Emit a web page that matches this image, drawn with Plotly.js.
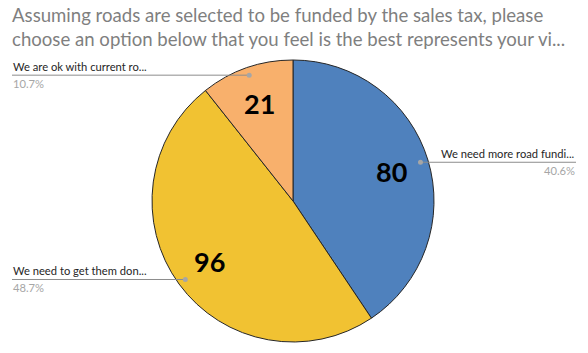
<!DOCTYPE html>
<html>
<head>
<meta charset="utf-8">
<script src="https://cdn.plot.ly/plotly-3.0.1.min.js"></script>
<style>html,body{margin:0;padding:0;background:#fff}#chart{width:588px;height:353px}</style>
</head>
<body>
<div id="chart"></div>
<script>
// ---- data ----
const categories = ["We need more road fundi...", "We need to get them don...", "We are ok with current ro..."];
const counts = [80, 96, 21];
const colors = ["#4F81BD", "#F1C232", "#F8B06C"];
const chartTitle = "Assuming roads are selected to be funded by the sales tax, please<br>choose an option below that you feel is the best represents your vi...";

// ---- layout constants ----
const W = 588, H = 353;
const cx = 293, cy = 201, R = 141;
const FONT = "Lato, 'Open Sans', sans-serif";
const px = x => x / W;
const py = y => 1 - y / H;

const total = counts.reduce((a, b) => a + b, 0);
const annotations = [];
const shapes = [];
let cum = 0;
counts.forEach((v, i) => {
  const mid = (cum + v / 2) / total * 2 * Math.PI; // clockwise from top
  cum += v;
  const sx = Math.sin(mid), cy_ = Math.cos(mid);
  // value label inside
  annotations.push({
    xref: "paper", yref: "paper",
    x: px(cx + 0.73 * R * sx), y: py(cy - 0.73 * R * cy_),
    text: "<b>" + v + "</b>", showarrow: false,
    font: {family: FONT, size: 27, color: "#000"},
    xanchor: "center", yanchor: "middle"
  });
  // leader dot & line
  const dx = cx + 0.945 * R * sx, dy = cy - 0.945 * R * cy_;
  const right = sx > 0;
  const x0 = right ? 576 : 12;
  shapes.push({type: "line", xref: "paper", yref: "paper",
    x0: px(dx), x1: px(x0), y0: py(dy), y1: py(dy),
    line: {color: "#8C8C8C", width: 1}});
  shapes.push({type: "circle", xref: "paper", yref: "paper",
    x0: px(dx - 2.5), x1: px(dx + 2.5), y0: py(dy - 2.5), y1: py(dy + 2.5),
    fillcolor: "#A6A6A6", line: {width: 0}});
  const pct = (v / total * 100).toFixed(1) + "%";
  annotations.push({
    xref: "paper", yref: "paper", x: px(x0), y: py(dy - 1),
    text: categories[i], showarrow: false,
    font: {family: FONT, size: 11.2, color: "#262626"},
    xanchor: right ? "right" : "left", yanchor: "bottom", borderpad: 0
  });
  annotations.push({
    xref: "paper", yref: "paper", x: px(x0), y: py(dy + 1),
    text: pct, showarrow: false,
    font: {family: FONT, size: 11.2, color: "#A6A6A6"},
    xanchor: right ? "right" : "left", yanchor: "top", borderpad: 0
  });
});

const trace = {
  type: "pie",
  labels: categories,
  values: counts,
  sort: false,
  direction: "clockwise",
  rotation: 0,
  textinfo: "none",
  hoverinfo: "label+value+percent",
  marker: {colors: colors, line: {color: "#262626", width: 1}},
  domain: {x: [px(cx - R), px(cx + R)], y: [py(cy + R), py(cy - R)]},
  showlegend: false
};

const layout = {
  width: W, height: H,
  margin: {l: 0, r: 0, t: 0, b: 0},
  paper_bgcolor: "#fff",
  title: {
    text: chartTitle,
    x: 12 / W, xanchor: "left", xref: "paper",
    y: 1 - 22 / H, yanchor: "top", yref: "container",
    font: {family: FONT, size: 18.6, color: "#7F7F7F"}
  },
  annotations: annotations,
  shapes: shapes
};

Plotly.newPlot("chart", [trace], layout, {displayModeBar: false, staticPlot: true});
</script>
</body>
</html>
